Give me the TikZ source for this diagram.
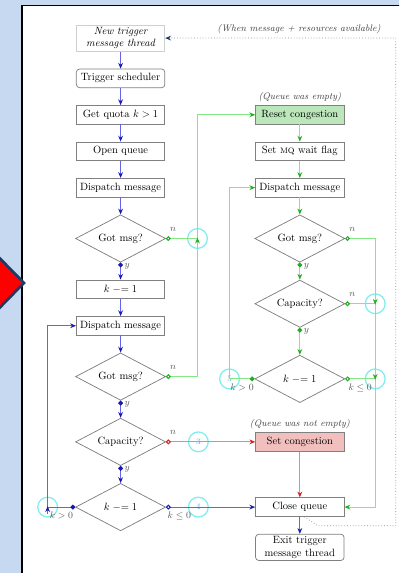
\documentclass[tikz,border=0pt]{standalone}
\usepackage{xcolor}
\usepackage{tikz}
\usepackage{amsmath}
\usetikzlibrary{shapes.geometric, arrows.meta, positioning, calc}
\definecolor{pagebg}{HTML}{C6D9F1}
\definecolor{navyedge}{HTML}{1F3864}
\definecolor{boxgray}{HTML}{808080}
\definecolor{faintgray}{HTML}{CFCFCF}
\definecolor{lineblue}{HTML}{6464EA}
\definecolor{tipblue}{HTML}{1A1AB0}
\definecolor{linegreen}{HTML}{85E885}
\definecolor{tipgreen}{HTML}{1FAF1F}
\definecolor{linered}{HTML}{EE8585}
\definecolor{tipred}{HTML}{D42020}
\definecolor{resetfill}{HTML}{BBE7BB}
\definecolor{congfill}{HTML}{F2BFBF}
\definecolor{markcyan}{HTML}{80EEEE}
\definecolor{loopgray}{HTML}{8A8AA0}
\tikzset{
  btip/.tip={Stealth[color=tipblue, length=5.5pt, width=4.5pt]},
  gtip/.tip={Stealth[color=tipgreen, length=5.5pt, width=4.5pt]},
  rtip/.tip={Stealth[color=tipred, length=5.5pt, width=4.5pt]},
  bdot/.tip={Circle[color=tipblue, length=4.5pt]},
  gdot/.tip={Circle[color=tipgreen, length=4.5pt]},
  bring/.tip={Circle[open, color=tipblue, length=4.5pt]},
  gring/.tip={Circle[open, color=tipgreen, length=4.5pt]},
  rring/.tip={Circle[open, color=tipred, length=4.5pt]}
}

\begin{document}
\begin{tikzpicture}[
    node distance=0.57cm,
    process/.style={rectangle, draw=boxgray, line width=0.7pt, fill=white, minimum width=2.95cm, minimum height=0.62cm, inner sep=2pt, align=center},
    terminal/.style={process, rounded corners=3pt},
    entry/.style={process, draw=faintgray, font=\itshape},
    decision/.style={diamond, draw=boxgray, line width=0.7pt, fill=white, minimum width=3cm, minimum height=1.58cm, inner sep=0pt, aspect=2},
    bline/.style={draw=lineblue, line width=1pt},
    gline/.style={draw=linegreen, line width=1pt},
    rline/.style={draw=linered, line width=1pt},
    branch/.style={font=\small, text=black!65},
    note/.style={font=\small\itshape, text=black!75},
    marker/.style={circle, draw=markcyan, line width=1.2pt, minimum size=0.66cm, inner sep=0pt, font=\footnotesize, text=markcyan!70!blue}
]

% Frame
\useasboundingbox (0,0) rectangle (13.3,-19.1);
\fill[pagebg] (0,0) rectangle (13.3,-19.1);
\begin{scope}
  \clip (0,0) rectangle (13.3,-19.1);
  \draw[fill=white, line width=1.5pt] (0.73,-0.18) rectangle (14,-20);
  \draw[fill=red, draw=navyedge, line width=2.5pt] (-1,-7.6) -- (0.8,-9.43) -- (-1,-11.27) -- cycle;
\end{scope}

% Nodes
\node[entry] (newthread) at (4.02,-1.27) {New trigger\\message thread};
\node[terminal, below=of newthread] (sched) {Trigger scheduler};
\node[process, below=of sched] (quota) {Get quota $k > 1$};
\node[process, below=of quota] (openq) {Open queue};
\node[process, below=of openq] (disp1) {Dispatch message};
\node[decision, below=of disp1] (got1) {Got msg?};
\node[process, below=of got1] (dec1) {$k \mathrel{-}= 1$};
\node[process, below=of dec1] (disp2) {Dispatch message};
\node[decision, below=of disp2] (got2) {Got msg?};
\node[decision, below=of got2] (cap1) {Capacity?};
\node[decision, below=of cap1] (kdec1) {$k \mathrel{-}= 1$};

\node[process, fill=resetfill, right=3cm of quota] (reset) {Reset congestion};
\node[process, below=of reset] (setmq) {Set \textsc{mq} wait flag};
\node[process, below=of setmq] (disp3) {Dispatch message};
\node[decision, below=of disp3] (got3) {Got msg?};
\node[decision, below=of got3] (cap2) {Capacity?};
\node[decision, below=0.9cm of cap2] (kdec2) {$k \mathrel{-}= 1$};
\node[process, fill=congfill] (setcong) at (cap1 -| reset) {Set congestion};
\node[process] (closeq) at (kdec1 -| reset) {Close queue};
\node[terminal, below=of closeq] (exitthr) {Exit trigger\\message thread};

\node[note, above=0pt of reset] (emptynote) {(Queue was empty)};
\node[note, above=0pt of setcong] (fullnote) {(Queue was not empty)};

% Markers
\node[marker] (m1) at ([xshift=1.05cm]got1.east) {};
\node[marker] (m2) at ([xshift=1cm]cap2.east) {};
\node[marker] (m3) at ([xshift=1.08cm]cap1.east) {3};
\node[marker] (m4) at ([xshift=1.08cm]kdec1.east) {4};
\node[marker] (m5) at ([xshift=-0.83cm]kdec2.west) {5};
\node[marker] (m6) at ([xshift=1cm]kdec2.east) {};
\node[marker] (m7) at ([xshift=-0.92cm]kdec1.west) {};

% Arrows
\draw[bline, -{btip}] (newthread) -- (sched);
\draw[bline, -{btip}] (sched) -- (quota);
\draw[bline, -{btip}] (quota) -- (openq);
\draw[bline, -{btip}] (openq) -- (disp1);
\draw[bline, -{btip}] (disp1) -- (got1);
\draw[bline, {bdot}-{btip}] (got1) -- node[branch, right, pos=0.2] {$y$} (dec1);
\draw[bline, -{btip}] (dec1) -- (disp2);
\draw[bline, -{btip}] (disp2) -- (got2);
\draw[bline, {bdot}-{btip}] (got2) -- node[branch, right, pos=0.2] {$y$} (cap1);
\draw[bline, {bdot}-{btip}] (cap1) -- node[branch, right, pos=0.2] {$y$} (kdec1);
\draw[bline, {bdot}-{btip}] (kdec1.west) -- node[branch, below=1pt] {$k > 0$} (m7.center) |- (disp2.west);
\draw[bline, {bring}-{btip}] (kdec1.east) -- node[branch, below=1pt, pos=0.15] {$k \leq 0$} (closeq.west);
\draw[bline, -{btip}] ([yshift=-0.22cm]m7.center) -- ([yshift=0.03cm]m7.center);
\draw[bline, -{btip}] (closeq) -- (exitthr);

\draw[gline, {gring}-{gtip}] (got1.east) node[branch, above right=3pt and 0pt] {$n$} -| (m1.center) |- (reset.west);
\draw[gline, {gring}-] (got2.east) node[branch, above right=3pt and 0pt] {$n$} -| (m1.center);
\draw[gline, -{gtip}] ([yshift=-0.22cm]m1.center) -- ([yshift=0.03cm]m1.center);
\draw[gline, -{gtip}] (reset) -- (setmq);
\draw[gline, -{gtip}] (setmq) -- (disp3);
\draw[gline, -{gtip}] (disp3) -- (got3);
\draw[gline, {gdot}-{gtip}] (got3) -- node[branch, right, pos=0.2] {$y$} (cap2);
\draw[gline, {gdot}-{gtip}] (cap2) -- node[branch, right, pos=0.15] {$y$} (kdec2);
\draw[gline, {gring}-{gtip}] (got3.east) node[branch, above right=3pt and 0pt] {$n$} -| (m2.center) |- (closeq.east);
\draw[gline, {gring}-] (cap2.east) node[branch, above right=3pt and 0pt] {$n$} -- (m2.center);
\draw[gline, {gring}-] (kdec2.east) -- node[branch, below=1pt] {$k \leq 0$} (m6.center);
\draw[gline, {gdot}-{gtip}] (kdec2.west) -- node[branch, below=1pt] {$k > 0$} (m5.center) |- (disp3.west);
\draw[gline, -{gtip}] ([yshift=0.22cm]m2.center) -- ([yshift=-0.03cm]m2.center);
\draw[gline, -{gtip}] ([yshift=0.22cm]m6.center) -- ([yshift=-0.03cm]m6.center);

\draw[rline, {rring}-{rtip}] (cap1.east) node[branch, above right=3pt and 0pt] {$n$} -- (setcong.west);
\draw[rline, -{rtip}] (setcong) -- (closeq);

% Loop back
\draw[draw=loopgray, dotted, line width=0.7pt, -{Stealth[color=navyedge, length=5.5pt, width=4.5pt]}] ([xshift=0.15cm]closeq.south) -- ++(0.45,-0.3) -- ++(2.6,0) |- node[note, pos=0.71, above] {(When message + resources available)} (newthread.east);

\end{tikzpicture}
\end{document}
